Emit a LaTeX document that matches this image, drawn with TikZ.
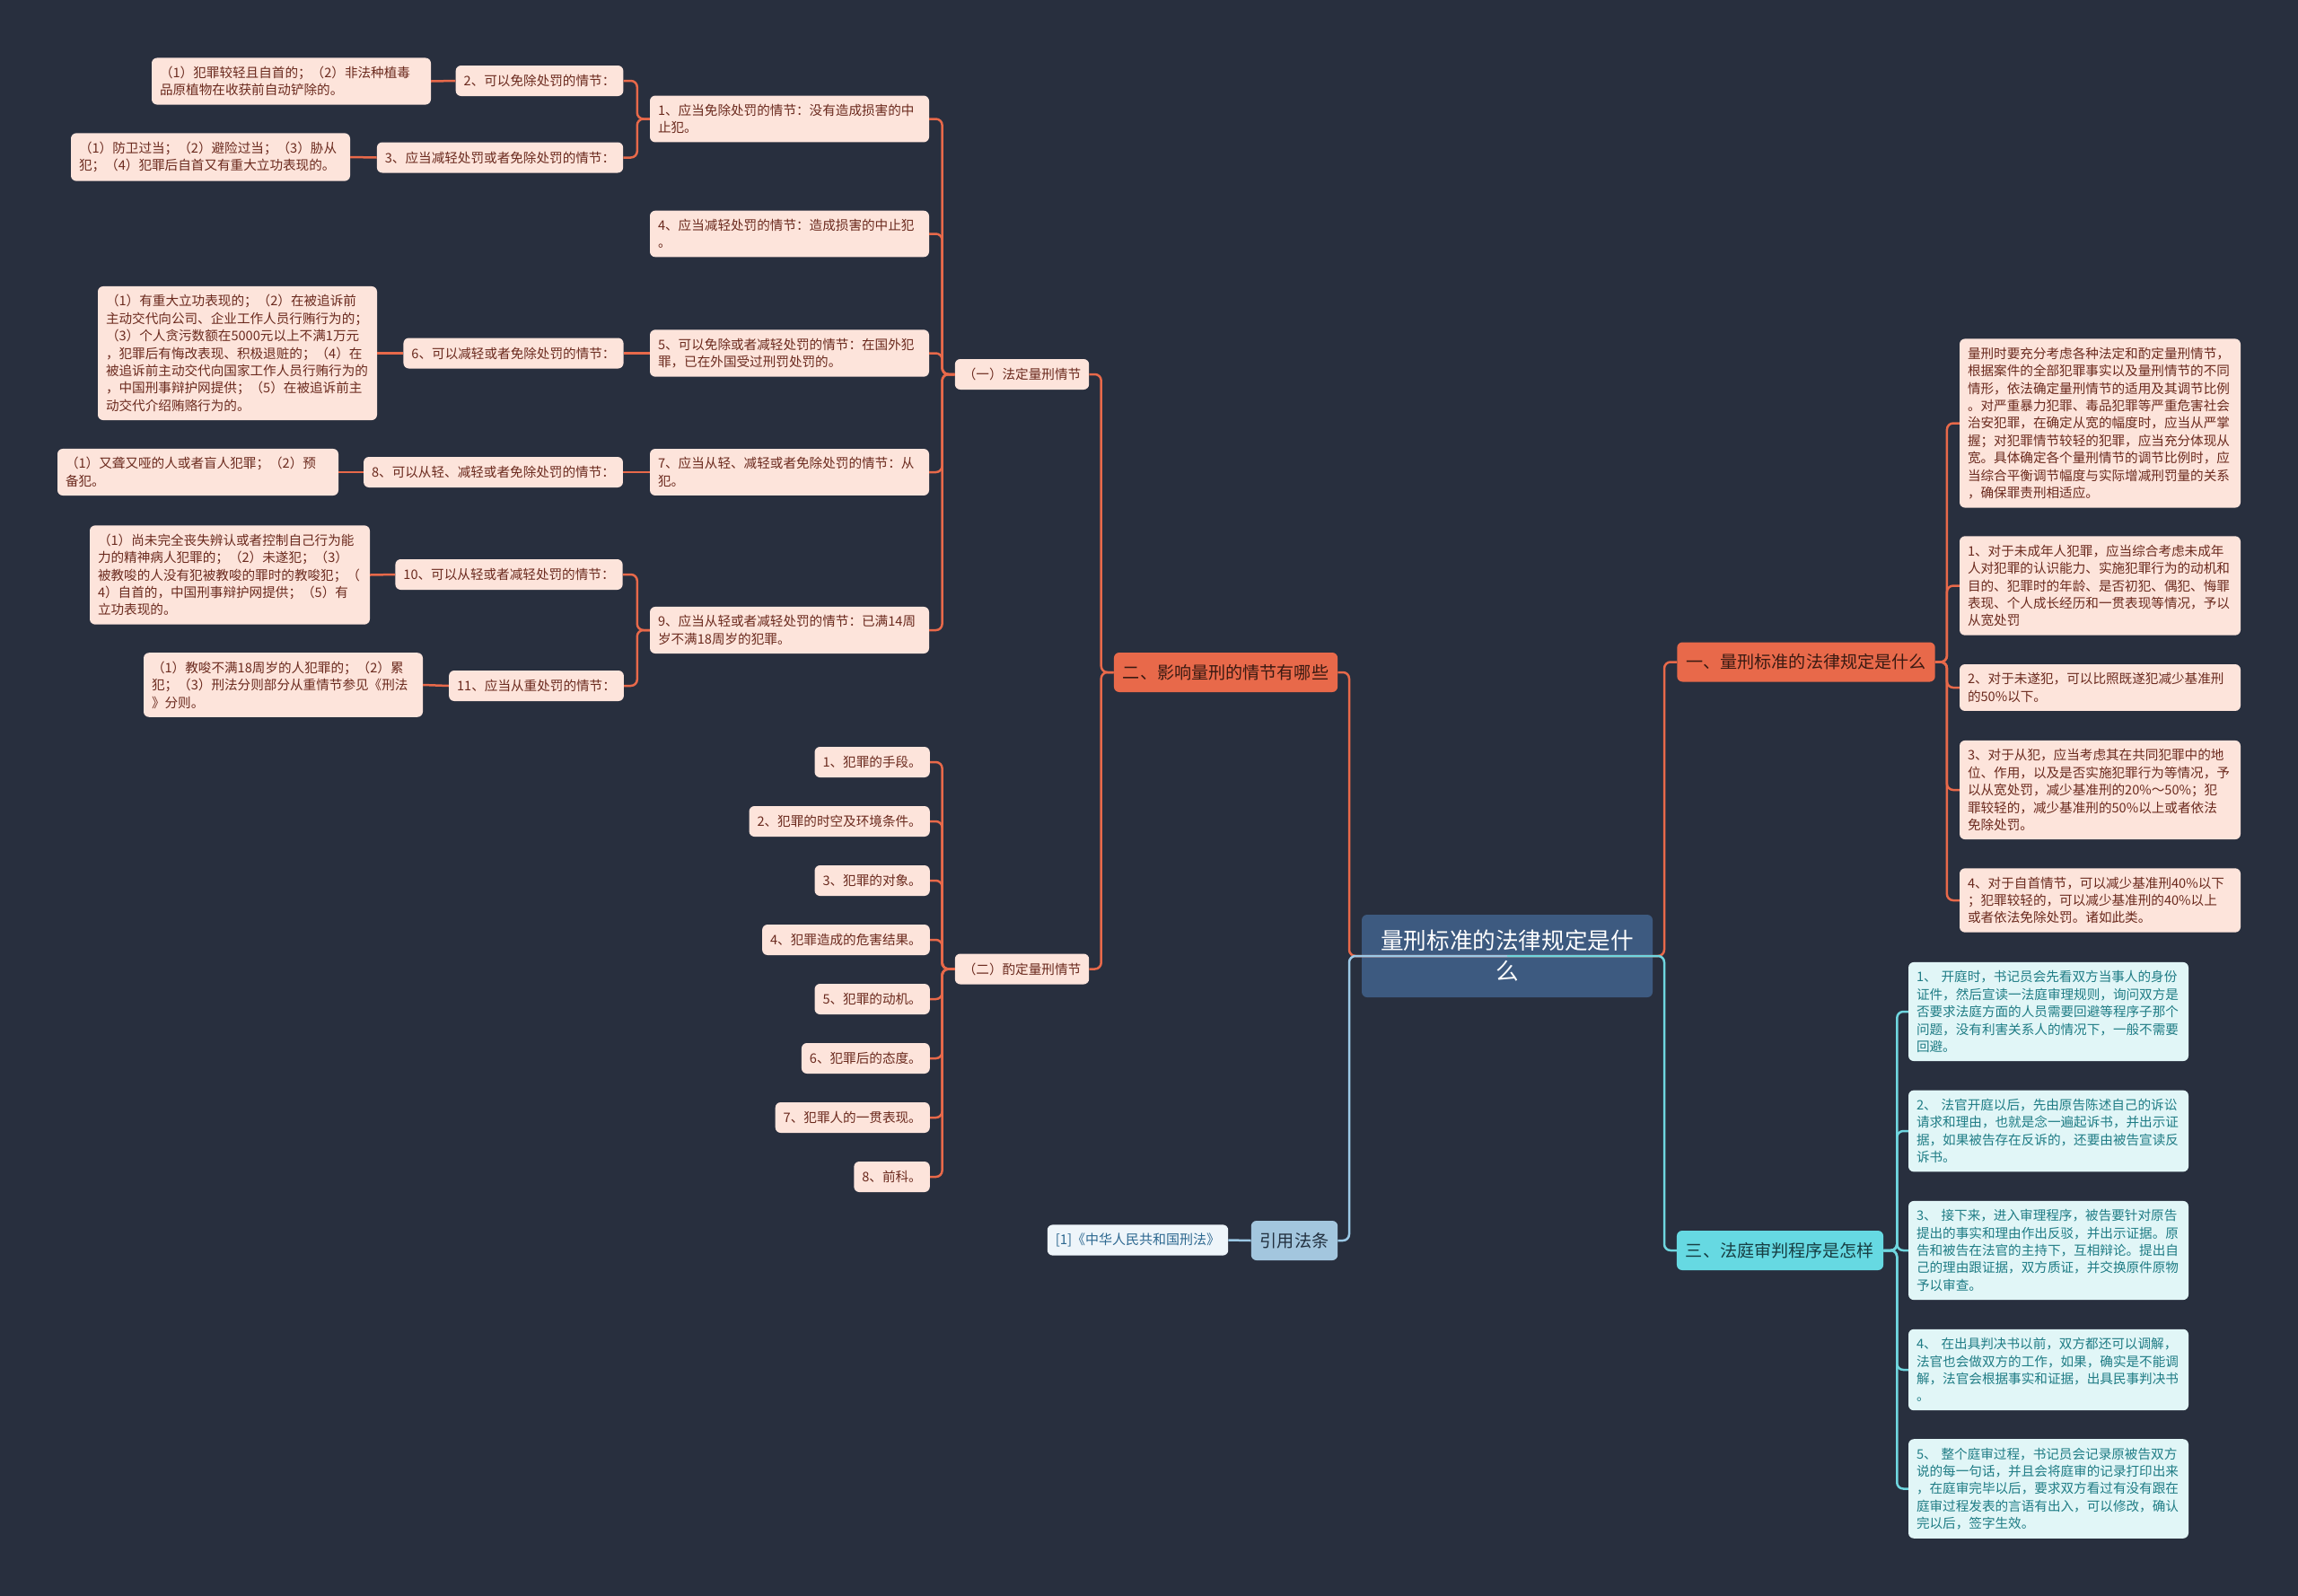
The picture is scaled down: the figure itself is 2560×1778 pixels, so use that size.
\documentclass[tikz,border=0pt]{standalone}
\usepackage{fontspec}
\setmainfont{Noto Sans CJK SC}

\definecolor{bg}{HTML}{282F3E}
\definecolor{orangec}{HTML}{E8694A}
\definecolor{peach}{HTML}{FDE4DB}
\definecolor{leaftext}{HTML}{6B2A1E}
\definecolor{maintext}{HTML}{3A1A12}
\definecolor{rootc}{HTML}{3D5A80}
\definecolor{cyanc}{HTML}{6FD6DF}
\definecolor{cyanmain}{HTML}{66D9E2}
\definecolor{cyanlight}{HTML}{E1F6F7}
\definecolor{cyantext}{HTML}{1F7C85}
\definecolor{sanText}{HTML}{173E43}
\definecolor{bluec}{HTML}{9CC9E6}
\definecolor{yinc}{HTML}{A3C6DE}
\definecolor{yintext}{HTML}{22303F}
\definecolor{refc}{HTML}{EEF5FA}
\definecolor{reftext}{HTML}{2D6890}

\begin{document}
\begin{tikzpicture}[
      x = 1pt, y = -1pt,
      every node/.style = {rounded corners = 6pt, inner ysep = 9.5pt, inner xsep = 9pt},
      leaf/.style = {fill = peach, text = leaftext, align = left,
        minimum height = 34pt, font = \fontsize{14.6}{19.4}\selectfont},
      cleaf/.style = {leaf, fill = cyanlight, text = cyantext},
      main/.style = {fill = #1, text = maintext, minimum height = 44pt,
        inner xsep = 10pt, font = \fontsize{19.1}{24}\selectfont},
      oline/.style = {draw = orangec, line width = 2.5pt, rounded corners = 7pt},
      cline/.style = {oline, draw = cyanc},
      bline/.style = {oline, draw = bluec}
      ]
    \fill[bg] (0,0) rectangle (2560,1778);

    % centre and main branches
    \node[fill = rootc, text = white, align = center, text width = 300pt,
      minimum width = 324pt, minimum height = 92pt,
      font = \fontsize{25.6}{34}\selectfont] (root) at (1679,1065)
      {量刑标准的法律规定是什\\么};
    \node[main = orangec] (er) at (1365.5,749) {二、影响量刑的情节有哪些};
    \node[main = orangec] (yi) at (2012,737.5) {一、量刑标准的法律规定是什么};
    \node[main = cyanmain, text = sanText] (san) at (1983,1393) {三、法庭审判程序是怎样};
    \node[main = yinc, text = yintext] (yin) at (1442,1382) {引用法条};
    \node[fill = refc, text = reftext, minimum height = 33pt,
      font = \fontsize{15}{19}\selectfont] (ref1) at (1267.5,1381.5) {[1]《中华人民共和国刑法》};

    % (一) 法定量刑情节
    \node[leaf] (fd) at (1138.5,417) {（一）法定量刑情节};
    \node[leaf, text width = 293pt] (n1) at (879.5,132.5)
      {1、应当免除处罚的情节：没有造成损害的中\\止犯。};
    \node[leaf] (n2) at (601,90) {2、可以免除处罚的情节：};
    \node[leaf, text width = 293pt] (c2a) at (324.5,90.5)
      {（1）犯罪较轻且自首的；（2）非法种植毒\\品原植物在收获前自动铲除的。};
    \node[leaf] (n3) at (557,175.5) {3、应当减轻处罚或者免除处罚的情节：};
    \node[leaf, text width = 293pt] (c3a) at (234.5,175)
      {（1）防卫过当；（2）避险过当；（3）胁从\\犯；（4）犯罪后自首又有重大立功表现的。};
    \node[leaf, text width = 293pt] (n4) at (879.5,260.5)
      {4、应当减轻处罚的情节：造成损害的中止犯\\。};
    \node[leaf, text width = 293pt] (n5) at (879.5,393.5)
      {5、可以免除或者减轻处罚的情节：在国外犯\\罪，已在外国受过刑罚处罚的。};
    \node[leaf] (n6) at (572,393.5) {6、可以减轻或者免除处罚的情节：};
    \node[leaf, text width = 293pt] (c6a) at (264.5,393.5)
      {（1）有重大立功表现的；（2）在被追诉前\\主动交代向公司、企业工作人员行贿行为的；\\（3）个人贪污数额在5000元以上不满1万元\\，犯罪后有悔改表现、积极退赃的；（4）在\\被追诉前主动交代向国家工作人员行贿行为的\\，中国刑事辩护网提供；（5）在被追诉前主\\动交代介绍贿赂行为的。};
    \node[leaf, text width = 293pt] (n7) at (879.5,526)
      {7、应当从轻、减轻或者免除处罚的情节：从\\犯。};
    \node[leaf] (n8) at (549.5,526) {8、可以从轻、减轻或者免除处罚的情节：};
    \node[leaf, text width = 295pt] (c8a) at (220.5,526)
      {（1）又聋又哑的人或者盲人犯罪；（2）预\\备犯。};
    \node[leaf, text width = 293pt] (n9) at (879.5,702)
      {9、应当从轻或者减轻处罚的情节：已满14周\\岁不满18周岁的犯罪。};
    \node[leaf] (n10) at (567,640) {10、可以从轻或者减轻处罚的情节：};
    \node[leaf, text width = 294pt] (c10a) at (256,640.5)
      {（1）尚未完全丧失辨认或者控制自己行为能\\力的精神病人犯罪的；（2）未遂犯；（3）\\被教唆的人没有犯被教唆的罪时的教唆犯；（\\4）自首的，中国刑事辩护网提供；（5）有\\立功表现的。};
    \node[leaf] (n11) at (597.5,764) {11、应当从重处罚的情节：};
    \node[leaf, text width = 293pt] (c11a) at (315.5,763)
      {（1）教唆不满18周岁的人犯罪的；（2）累\\犯；（3）刑法分则部分从重情节参见《刑法\\》分则。};

    % (二) 酌定量刑情节
    \node[leaf] (zd) at (1138.5,1079.5) {（二）酌定量刑情节};
    \foreach \t [count = \i] in {1、犯罪的手段。, 2、犯罪的时空及环境条件。,
        3、犯罪的对象。, 4、犯罪造成的危害结果。, 5、犯罪的动机。,
        6、犯罪后的态度。, 7、犯罪人的一贯表现。, 8、前科。}
      \node[leaf, anchor = east] (z\i) at (1036,783+66*\i) {\t};

    % 一 branch
    \node[leaf, text width = 295pt] (ra) at (2339.5,471.5)
      {量刑时要充分考虑各种法定和酌定量刑情节，\\根据案件的全部犯罪事实以及量刑情节的不同\\情形，依法确定量刑情节的适用及其调节比例\\。对严重暴力犯罪、毒品犯罪等严重危害社会\\治安犯罪，在确定从宽的幅度时，应当从严掌\\握；对犯罪情节较轻的犯罪，应当充分体现从\\宽。具体确定各个量刑情节的调节比例时，应\\当综合平衡调节幅度与实际增减刑罚量的关系\\，确保罪责刑相适应。};
    \node[leaf, text width = 295pt] (rb) at (2339.5,652.5)
      {1、对于未成年人犯罪，应当综合考虑未成年\\人对犯罪的认识能力、实施犯罪行为的动机和\\目的、犯罪时的年龄、是否初犯、偶犯、悔罪\\表现、个人成长经历和一贯表现等情况，予以\\从宽处罚};
    \node[leaf, text width = 295pt] (rc) at (2339.5,766)
      {2、对于未遂犯，可以比照既遂犯减少基准刑\\的50\%以下。};
    \node[leaf, text width = 295pt] (rd) at (2339.5,880)
      {3、对于从犯，应当考虑其在共同犯罪中的地\\位、作用，以及是否实施犯罪行为等情况，予\\以从宽处罚，减少基准刑的20\%～50\%；犯\\罪较轻的，减少基准刑的50\%以上或者依法\\免除处罚。};
    \node[leaf, text width = 295pt] (re) at (2339.5,1003)
      {4、对于自首情节，可以减少基准刑40\%以下\\；犯罪较轻的，可以减少基准刑的40\%以上\\或者依法免除处罚。诸如此类。};

    % 三 branch
    \node[cleaf, text width = 294pt] (sa) at (2282,1127)
      {1、 开庭时，书记员会先看双方当事人的身份\\证件，然后宣读一法庭审理规则，询问双方是\\否要求法庭方面的人员需要回避等程序子那个\\问题，没有利害关系人的情况下，一般不需要\\回避。};
    \node[cleaf, text width = 294pt] (sb) at (2282,1260)
      {2、 法官开庭以后，先由原告陈述自己的诉讼\\请求和理由，也就是念一遍起诉书，并出示证\\据，如果被告存在反诉的，还要由被告宣读反\\诉书。};
    \node[cleaf, text width = 294pt] (sc) at (2282,1393)
      {3、 接下来，进入审理程序，被告要针对原告\\提出的事实和理由作出反驳，并出示证据。原\\告和被告在法官的主持下，互相辩论。提出自\\己的理由跟证据，双方质证，并交换原件原物\\予以审查。};
    \node[cleaf, text width = 294pt] (sd) at (2282,1526)
      {4、 在出具判决书以前，双方都还可以调解，\\法官也会做双方的工作，如果，确实是不能调\\解，法官会根据事实和证据，出具民事判决书\\。};
    \node[cleaf, text width = 294pt] (se) at (2282,1658.5)
      {5、 整个庭审过程，书记员会记录原被告双方\\说的每一句话，并且会将庭审的记录打印出来\\，在庭审完毕以后，要求双方看过有没有跟在\\庭审过程发表的言语有出入，可以修改，确认\\完以后，签字生效。};

    % connectors
    \draw[oline] (er.west) -- ++(-14,0) |- (fd.east);
    \draw[oline] (er.west) -- ++(-14,0) |- (zd.east);
    \foreach \c in {n1,n4,n5,n7,n9}
      \draw[oline] (fd.west) -- ++(-14,0) |- (\c.east);
    \draw[oline] (n1.west) -- ++(-14,0) |- (n2.east);
    \draw[oline] (n1.west) -- ++(-14,0) |- (n3.east);
    \draw[oline] (n9.west) -- ++(-14,0) |- (n10.east);
    \draw[oline] (n9.west) -- ++(-14,0) |- (n11.east);
    \draw[oline] (n2.west) -- (c2a.east);
    \draw[oline] (n3.west) -- (c3a.east);
    \draw[oline] (n5.west) -- (n6.east);
    \draw[oline] (n6.west) -- (c6a.east);
    \draw[oline] (n7.west) -- (n8.east);
    \draw[oline] (n8.west) -- (c8a.east);
    \draw[oline] (n10.west) -- (c10a.east);
    \draw[oline] (n11.west) -- (c11a.east);
    \foreach \i in {1,...,8}
      \draw[oline] (zd.west) -- ++(-14,0) |- (z\i.east);
    \foreach \c in {ra,rb,rc,rd,re}
      \draw[oline] (yi.east) -- ++(13,0) |- (\c.west);
    \foreach \c in {sa,sb,sc,sd,se}
      \draw[cline] (san.east) -- ++(15,0) |- (\c.west);
    \draw[bline] (yin.west) -- (ref1.east);

    \coordinate (lt) at (1503,1065);
    \coordinate (rt) at (1854,1065);
    \draw[oline] (root.center) -- (lt) |- (er.east);
    \draw[oline] (root.center) -- (rt) |- (yi.west);
    \draw[bline] (root.center) -- (lt) |- (yin.east);
    \draw[cline] (root.center) -- (rt) |- (san.west);
  \end{tikzpicture}
\end{document}
